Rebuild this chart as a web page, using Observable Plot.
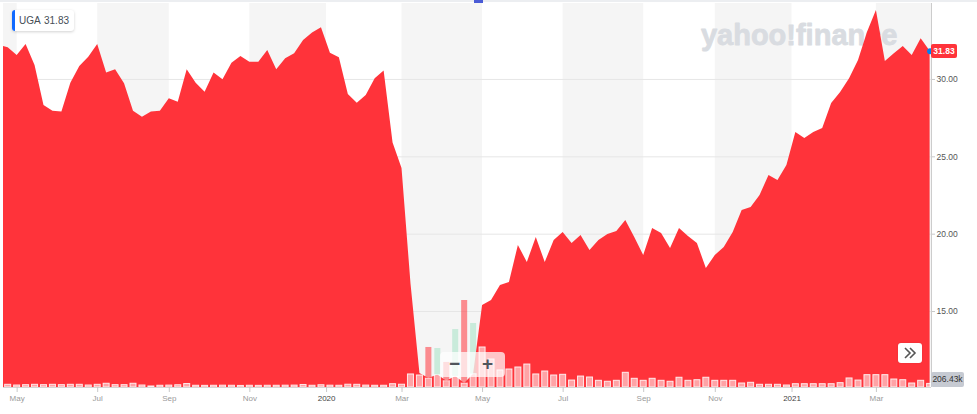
<!DOCTYPE html>
<html>
<head>
<meta charset="utf-8">
<script src="https://cdn.jsdelivr.net/npm/d3@7"></script>
<script src="https://cdn.jsdelivr.net/npm/@observablehq/plot@0.6"></script>
<style>
html, body { margin: 0; padding: 0; background: #fff; }
#wrap { position: relative; width: 977px; height: 414px; overflow: hidden; font-family: "Liberation Sans", Arial, sans-serif; }
#wrap svg { position: absolute; left: 0; top: 0; }
.topline { position: absolute; left: 0; top: 0; width: 977px; height: 2px; background: #eceef1; }
.handle { position: absolute; left: 474px; top: 0; width: 9px; height: 3px; background: #4a5bd6; }
.legend { position: absolute; left: 12px; top: 10px; height: 21px; width: 62px; background: #fff; border-radius: 3px;
  box-shadow: 0 1px 3px rgba(0,0,0,0.18); font-size: 10px; color: #464e56; line-height: 21px; white-space: nowrap; }
.legend .bar { position: absolute; left: 0; top: 0; width: 3px; height: 21px; background: #0f69ff; border-radius: 3px 0 0 3px; }
.legend .t1 { position: absolute; left: 7px; }
.legend .t2 { position: absolute; left: 32px; }
.plabel { position: absolute; left: 931px; height: 14px; width: 26px; background: #ff333a; color: #fff; font-size: 8.5px;
  font-weight: bold; line-height: 14px; text-align: center; border-radius: 2px; }
.vlabel { position: absolute; left: 931px; height: 15px; width: 33px; background: #c6cad2; color: #333; font-size: 8.5px;
  line-height: 15px; text-align: center; border-radius: 2px; }
.zoomctl { position: absolute; left: 440px; top: 352px; width: 65px; height: 25px; background: rgba(255,255,255,0.72); border-radius: 4px; }
.zoomctl span { position: absolute; top: 1px; font-size: 19px; font-weight: bold; color: #50555b; line-height: 22px; }
.more { position: absolute; left: 898px; top: 343px; width: 24px; height: 20px; background: #fff; border-radius: 3px; box-shadow: 0 0 2px rgba(0,0,0,0.12); }
</style>
</head>
<body>
<div id="wrap"></div>
<script>
// ---------- data ----------
const ticker = "UGA";
const lastPriceText = "31.83";
const lastVolumeText = "206.43k";
const firstWeek = "2019-04-22";   // weekly points, one per Monday
const lastWeek = "2021-04-19";

// weekly closes
const prices = [
  32.2, 32.05, 31.55, 32.26, 30.9, 28.32, 27.95, 27.89, 29.76, 30.84,
  31.44, 32.26, 30.41, 30.63, 29.72, 27.95, 27.56, 27.89, 27.95, 28.75,
  28.53, 30.63, 29.76, 29.18, 30.41, 29.98, 31.05, 31.49, 31.12, 31.12,
  31.87, 30.63, 31.34, 31.66, 32.52, 33.0, 33.35, 31.7, 31.4, 29.03,
  28.47, 28.97, 30.05, 30.54, 25.9, 24.25, 16.8, 11.0, 10.67, 10.9,
  10.5, 10.8, 10.35, 10.95, 15.39, 15.71, 16.68, 16.88, 19.27, 18.17,
  19.79, 18.17, 19.59, 20.11, 19.4, 19.92, 18.95, 19.59, 19.98, 20.17,
  20.89, 19.79, 18.62, 20.37, 20.05, 19.08, 20.37, 19.85, 19.4, 17.78,
  18.62, 19.14, 20.11, 21.53, 21.73, 22.5, 23.79, 23.47, 24.44, 26.57,
  26.19, 26.57, 26.83, 28.45, 29.16, 30.04, 31.23, 33.04, 34.46, 31.16,
  31.66, 32.13, 31.55, 32.63, 31.83
];

// weekly volume, thousands of shares
const volumes = [
  150, 155, 115, 135, 155, 135, 155, 135, 155, 155,
  115, 155, 215, 135, 135, 215, 115, 60, 100, 110,
  130, 200, 100, 95, 100, 105, 100, 90, 100, 95,
  100, 100, 105, 110, 145, 100, 130, 105, 100, 160,
  155, 110, 100, 100, 190, 160, 750, 690, 2300, 2240,
  1440, 3330, 5000, 3680, 2300, 1610, 980, 1035, 1150, 1320,
  750, 920, 690, 730, 400, 630, 575, 385, 330, 385,
  845, 500, 385, 500, 385, 330, 560, 385, 420, 560,
  385, 385, 385, 230, 270, 155, 155, 155, 115, 190,
  190, 190, 190, 190, 250, 520, 400, 710, 710, 710,
  460, 420, 230, 385, 206.43
];

// x-axis ticks (first weekly bar of the month) and their labels
const tickDates = ["2019-05-06", "2019-07-08", "2019-09-02", "2019-11-04", "2020-01-03", "2020-03-02",
                   "2020-05-04", "2020-07-06", "2020-09-07", "2020-11-02", "2021-01-01", "2021-03-08"];
const tickLabels = ["May", "Jul", "Sep", "Nov", "2020", "Mar", "May", "Jul", "Sep", "Nov", "2021", "Mar"];

// shaded two-month columns
const bandStarts = ["2019-04-25", "2019-07-08", "2019-11-04", "2020-03-02", "2020-07-06", "2020-11-02", "2021-03-08"];
const bandEnds   = ["2019-05-06", "2019-09-02", "2020-01-03", "2020-05-04", "2020-09-07", "2021-01-01", "2021-04-21"];

// price axis
const yTicks = [15, 20, 25, 30];
const yMin = 10.09, yMax = 34.91;
const xStart = "2019-04-25T08:00:00Z", xEnd = "2021-04-20T02:00:00Z";

// ---------- build ----------
const dates = d3.utcMonday.range(new Date(firstWeek + "T00:00:00Z"), d3.utcDay.offset(new Date(lastWeek + "T00:00:00Z"), 1));
const series = dates.map((date, i) => ({
  date, price: prices[i], vol: volumes[i], up: i > 0 ? prices[i] >= prices[i - 1] : true
}));
// volume is drawn in the bottom strip: 1,000 shares = 0.0174 px; converted to price units
const volPerK = 0.0174 / (384 / (yMax - yMin));
const volTop = d => yMin + d.vol * volPerK;
const halfBar = 2.35 * 24 * 3600 * 1000;
const bx1 = d => new Date(+d.date - halfBar);
const bx2 = d => new Date(+d.date + halfBar);

const ticks = tickDates.map((t, i) => ({ date: new Date(t + "T00:00:00Z"), label: tickLabels[i] }));
const labelMap = new Map(ticks.map(t => [+t.date, t.label]));
const monthTicks = ticks.filter(t => !/^\d{4}$/.test(t.label)).map(t => t.date);
const yearTicks = ticks.filter(t => /^\d{4}$/.test(t.label)).map(t => t.date);
const bands = bandStarts.map((s, i) => ({ start: new Date(s + "T00:00:00Z"), end: new Date(bandEnds[i] + "T00:00:00Z") }));

const overArea = series.filter(d => volTop(d) > d.price);

const plot = Plot.plot({
  width: 977,
  height: 414,
  marginLeft: 3,
  marginRight: 46,
  marginTop: 3,
  marginBottom: 27,
  x: { type: "utc", domain: [new Date(xStart), new Date(xEnd)] },
  y: { domain: [yMin, yMax] },
  style: { fontFamily: "'Liberation Sans', Arial, sans-serif", background: "transparent", overflow: "visible" },
  marks: [
    Plot.rect(bands, { x1: "start", x2: "end", fill: "#f5f5f5", clip: true }),
    Plot.gridY(yTicks, { stroke: "#e6e6e6", strokeOpacity: 1 }),
    Plot.text(["yahoo!finance"], { frameAnchor: "top-right", text: d => d, dx: -34, dy: 21, textAnchor: "end",
      fontSize: 29, fontWeight: "bold", fill: "#d9dce1", stroke: "#d9dce1", strokeWidth: 0.8 }),
    Plot.areaY(series, { x: "date", y1: () => yMin, y2: "price", fill: "#ff333a", clip: true }),
    Plot.rect(series, { x1: bx1, x2: bx2, y1: () => yMin, y2: d => Math.min(volTop(d), d.price),
      fill: "white", fillOpacity: 0.55, stroke: "white", strokeOpacity: 0.85, strokeWidth: 1, clip: true }),
    Plot.rect(overArea.filter(d => !d.up), { x1: bx1, x2: bx2, y1: "price", y2: volTop, fill: "#ff333a", fillOpacity: 0.55, clip: true }),
    Plot.rect(overArea.filter(d => d.up), { x1: bx1, x2: bx2, y1: "price", y2: volTop, fill: "#19c275", fillOpacity: 0.2, clip: true }),
    Plot.ruleY([yMin], { stroke: "#d6d6d6" }),
    Plot.ruleX([new Date(xEnd)], { stroke: "#cccccc" }),
    Plot.axisX(monthTicks, { anchor: "bottom", tickFormat: d => labelMap.get(+d), tickSize: 5, tickPadding: 3,
      fontSize: 8, fill: "#9a9a9a", stroke: "#c8c8c8", label: null }),
    Plot.axisX(yearTicks, { anchor: "bottom", tickFormat: d => labelMap.get(+d), tickSize: 5, tickPadding: 3,
      fontSize: 8, fill: "#444", stroke: "#c8c8c8", label: null }),
    Plot.axisY(yTicks, { anchor: "right", tickFormat: d => d.toFixed(2), tickSize: 3, tickPadding: 2,
      fontSize: 8.5, fill: "#555", stroke: "#c8c8c8", label: null }),
    Plot.dot(series.slice(-1), { x: "date", y: "price", r: 3, fill: "#0081f2" })
  ]
});

const wrap = document.getElementById("wrap");
wrap.appendChild(plot);

const yScale = plot.scale("y");
const yLast = yScale.apply(prices[prices.length - 1]);
const yVol = yScale.apply(volTop(series[series.length - 1]));

wrap.insertAdjacentHTML("beforeend", `
  <div class="topline"></div>
  <div class="handle"></div>
  <div class="legend"><div class="bar"></div><span class="t1">${ticker}</span><span class="t2">${lastPriceText}</span></div>
  <div class="plabel" style="top:${(yLast - 7).toFixed(1)}px">${lastPriceText}</div>
  <div class="vlabel" style="top:${(yVol - 11).toFixed(1)}px">${lastVolumeText}</div>
  <div class="zoomctl"><span style="left:9px">\u2212</span><span style="left:42px">+</span></div>
  <div class="more"><svg width="24" height="20" viewBox="0 0 24 20"><polyline points="7,5 12,10 7,15" fill="none" stroke="#555" stroke-width="1.6"/><polyline points="12,5 17,10 12,15" fill="none" stroke="#555" stroke-width="1.6"/></svg></div>
`);
</script>
</body>
</html>
